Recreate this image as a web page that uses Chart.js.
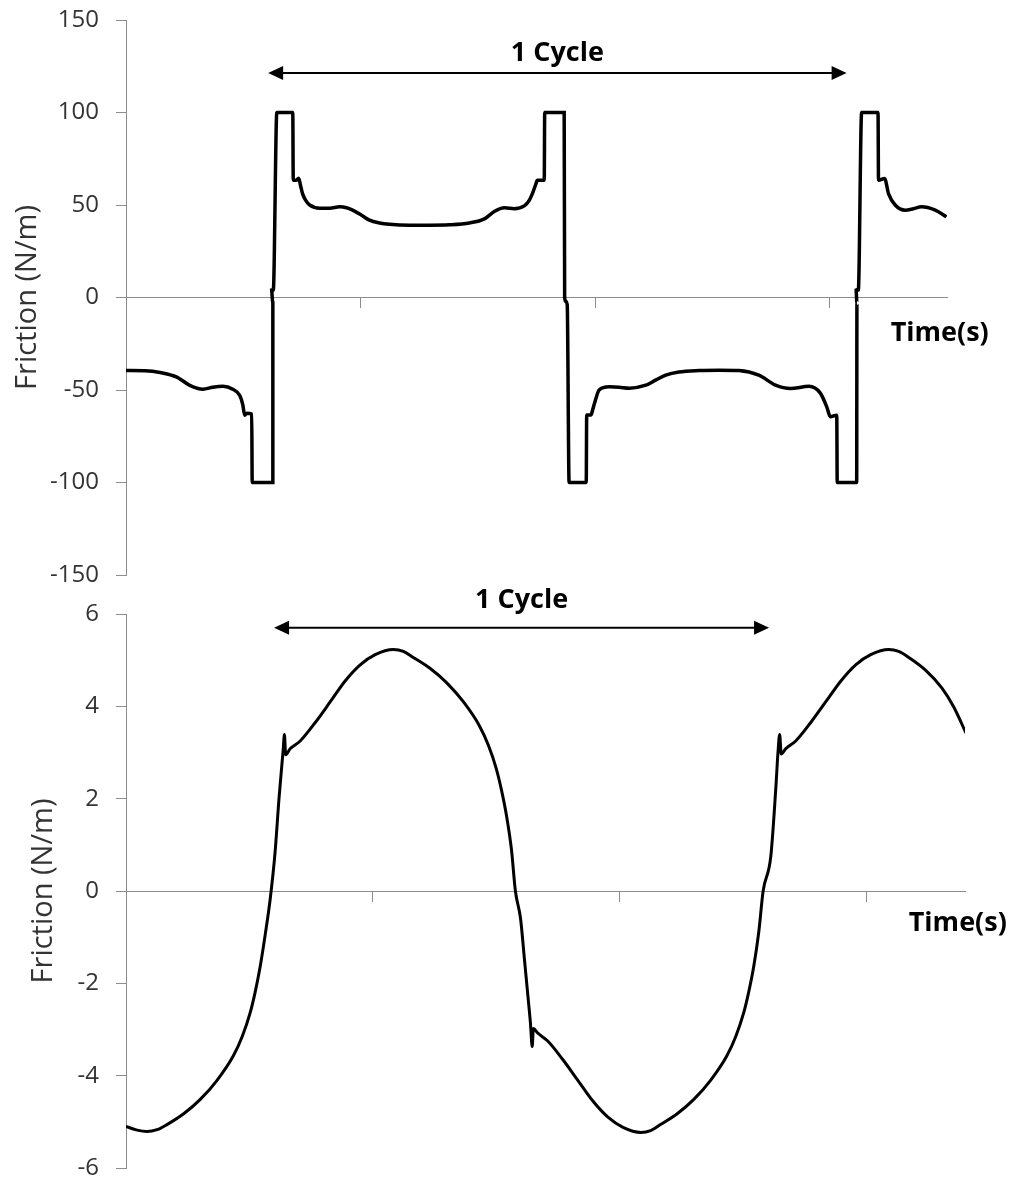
<!DOCTYPE html>
<html>
<head>
<meta charset="utf-8">
<script src="https://cdn.jsdelivr.net/npm/chart.js@4.4.0/dist/chart.umd.min.js"></script>
<style>
body { margin: 0; background: #fff; }
canvas { position: absolute; left: 0; }
#top-chart { top: 0; }
#bottom-chart { top: 578px; }
</style>
</head>
<body>
<canvas id="top-chart" width="1009" height="595"></canvas>
<canvas id="bottom-chart" width="1009" height="606"></canvas>
<script>
// upper panel: friction vs time (x in tick units, no labels on the axis)
var topTime = [0, 0.081, 0.145, 0.217, 0.272, 0.328, 0.370, 0.413, 0.455, 0.485, 0.498, 0.506, 0.515, 0.536, 0.538,
    0.626, 0.626, 0.620, 0.628, 0.643, 0.711, 0.713, 0.728, 0.736, 0.745, 0.753, 0.766, 0.783, 0.826, 0.868,
    0.911, 0.940, 0.966, 1.004, 1.038, 1.081, 1.123, 1.209, 1.294, 1.379, 1.464, 1.528, 1.570, 1.613, 1.655,
    1.698, 1.719, 1.732, 1.749, 1.753, 1.783, 1.785, 1.868, 1.870, 1.874, 1.881, 1.889, 1.962, 1.964, 1.982,
    1.991, 2.000, 2.017, 2.060, 2.102, 2.145, 2.216, 2.260, 2.301, 2.357, 2.443, 2.528, 2.613, 2.698, 2.769,
    2.833, 2.911, 2.960, 2.987, 3.003, 3.030, 3.032, 3.115, 3.116, 3.112, 3.122, 3.136, 3.206, 3.208, 3.234,
    3.251, 3.279, 3.322, 3.357, 3.391, 3.450, 3.498]
var topFriction = [-39.5, -39.6, -40.5, -43, -47.5, -49.6, -48.5, -48, -49.6, -53, -58, -63.6, -62.5, -63, -100,
    -100, -3, 5, 4, 100, 100, 63.4, 63.5, 64.5, 60, 56, 52.5, 50, 48.3, 48.3,
    49, 48.5, 47.2, 44.5, 41.8, 40.3, 39.6, 39.1, 39.1, 39.3, 40.3, 42.5, 46.5, 48.5, 48,
    49.5, 52.5, 56, 62, 63.4, 63.4, 100, 100, 0, -2, -4, -100, -100, -63.5, -63.5,
    -60, -56, -50, -48.3, -48.5, -49, -47.4, -44.5, -42, -40.3, -39.5, -39.3, -39.5, -42, -47.4,
    -49.2, -48, -51.7, -59, -64.5, -63.6, -100, -100, -3, 5, 4, 100, 100, 63.4, 64.3,
    56, 50, 47.2, 48, 49, 47.2, 43.6]

// lower panel
var bottomTime = [0, 0.045, 0.085, 0.126, 0.166, 0.235, 0.300, 0.369, 0.434, 0.471, 0.503, 0.523, 0.544, 0.564,
    0.584, 0.604, 0.620, 0.637, 0.642, 0.647, 0.665, 0.706, 0.767, 0.828, 0.888, 0.949, 1.010, 1.083, 1.124,
    1.164, 1.233, 1.298, 1.367, 1.432, 1.469, 1.501, 1.521, 1.542, 1.562, 1.578, 1.599, 1.615, 1.631, 1.639,
    1.646, 1.651, 1.669, 1.709, 1.770, 1.831, 1.892, 1.953, 2.014, 2.087, 2.126, 2.166, 2.235, 2.300, 2.369,
    2.434, 2.471, 2.503, 2.523, 2.544, 2.564, 2.582, 2.613, 2.633, 2.642, 2.649, 2.655, 2.673, 2.714, 2.775,
    2.836, 2.897, 2.957, 3.018, 3.091, 3.131, 3.172, 3.241, 3.306, 3.355, 3.404]
var bottomFriction = [-5.10, -5.18, -5.21, -5.17, -5.06, -4.82, -4.52, -4.10, -3.58, -3.15, -2.64, -2.20, -1.63, -0.95,
    -0.19, 0.83, 2.0, 3.06, 3.39, 2.95, 3.08, 3.25, 3.65, 4.1, 4.55, 4.9, 5.12, 5.23, 5.19,
    5.06, 4.82, 4.52, 4.10, 3.58, 3.15, 2.64, 2.20, 1.63, 0.90, 0.0, -0.6, -1.5, -2.4, -2.86,
    -3.37, -2.98, -3.08, -3.25, -3.65, -4.1, -4.55, -4.9, -5.12, -5.23, -5.19, -5.06, -4.82, -4.52, -4.10,
    -3.58, -3.15, -2.64, -2.20, -1.63, -0.9, 0.0, 0.75, 2.2, 2.99, 3.39, 2.97, 3.08, 3.25, 3.65,
    4.1, 4.55, 4.9, 5.12, 5.23, 5.19, 5.06, 4.78, 4.40, 3.98, 3.42]

// "1 Cycle" arrows: [start, end, height]
var topCycle = [0.606, 3.072, 121.4]
var bottomCycle = [0.600, 2.606, 5.70]

var axisGray = '#8c8c8c'
var textGray = '#333'

Chart.defaults.font.family = 'Open Sans'

var notes = {
    id: 'notes',
    afterDraw: function(chart, args, o) {
        var xs = chart.scales.x, ys = chart.scales.y, ctx = chart.ctx
        var x1 = xs.getPixelForValue(o.cycle[0])
        var x2 = xs.getPixelForValue(o.cycle[1])
        var ya = ys.getPixelForValue(o.cycle[2])
        ctx.save()
        ctx.strokeStyle = '#000'
        ctx.fillStyle = '#000'
        ctx.lineWidth = 2
        ctx.beginPath()
        ctx.moveTo(x1 + 8, ya)
        ctx.lineTo(x2 - 8, ya)
        ctx.stroke()
        ctx.beginPath()
        ctx.moveTo(x1, ya); ctx.lineTo(x1 + 15, ya - 7); ctx.lineTo(x1 + 15, ya + 7)
        ctx.closePath(); ctx.fill()
        ctx.beginPath()
        ctx.moveTo(x2, ya); ctx.lineTo(x2 - 15, ya - 7); ctx.lineTo(x2 - 15, ya + 7)
        ctx.closePath(); ctx.fill()

        ctx.font = 'bold 27px "Open Sans"'
        ctx.textBaseline = 'middle'
        ctx.textAlign = 'center'
        ctx.fillText('1 Cycle', (x1 + x2) / 2, ys.getPixelForValue(o.labelY))
        ctx.textAlign = 'left'
        ctx.fillText('Time(s)', xs.getPixelForValue(o.timeAt[0]), ys.getPixelForValue(o.timeAt[1]))
        ctx.restore()
    }
}

function buildChart(id, xs, ys, xMax, yMin, yMax, yStep, titlePad, rightPad, topPad, bottomPad, noteOpts, lineWidth) {
    var points = xs.map(function(t, i) { return {x: t, y: ys[i]} })
    var ctx = document.getElementById(id).getContext('2d')
    return new Chart(ctx, {
        type: 'line',
        data: {
            datasets: [{
                data: points,
                borderColor: '#000',
                borderWidth: lineWidth,
                pointRadius: 0,
                cubicInterpolationMode: 'monotone',
                fill: false
            }]
        },
        options: {
            responsive: false,
            animation: false,
            layout: { padding: { left: 0, right: rightPad, top: topPad, bottom: bottomPad } },
            plugins: {
                legend: { display: false },
                tooltip: { enabled: false },
                notes: noteOpts
            },
            scales: {
                x: {
                    type: 'linear',
                    position: { y: 0 },
                    min: 0,
                    max: xMax,
                    ticks: { display: false, stepSize: 1, includeBounds: false },
                    grid: { drawOnChartArea: false, tickLength: 10, color: axisGray },
                    border: { color: axisGray, width: 1 }
                },
                y: {
                    min: yMin,
                    max: yMax,
                    ticks: { stepSize: yStep, color: textGray, padding: 17, font: { size: 24 } },
                    grid: { drawOnChartArea: false, tickLength: 10, color: axisGray },
                    border: { color: axisGray, width: 1 },
                    title: {
                        display: true,
                        text: 'Friction (N/m)',
                        color: textGray,
                        font: { size: 29 },
                        padding: { top: titlePad, bottom: 0 }
                    },
                    afterFit: function(s) {
                        s.width = 126
                        s.paddingTop = 0
                        s.paddingBottom = 0
                    }
                }
            }
        },
        plugins: [notes]
    })
}

var topChart = buildChart('top-chart', topTime, topFriction, 3.5, -150, 150, 50, 10, 62, 20, 20,
    { cycle: topCycle, labelY: 132, timeAt: [3.26, -19.3] }, 3.5)
var bottomChart = buildChart('bottom-chart', bottomTime, bottomFriction, 3.4, -6, 6, 2, 26, 44, 36, 16,
    { cycle: bottomCycle, labelY: 6.29, timeAt: [3.172, -0.71] }, 3)
</script>
</body>
</html>
